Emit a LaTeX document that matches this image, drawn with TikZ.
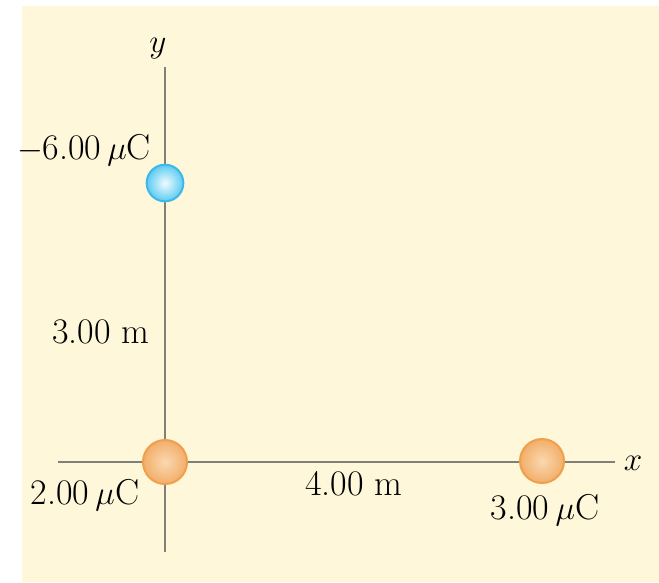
\documentclass[tikz,border=0pt]{standalone}
\usetikzlibrary{shadings}
\definecolor{cream}{HTML}{FEF7DA}
\definecolor{axisgray}{HTML}{808076}
\definecolor{orangeedge}{HTML}{F0A04C}
\definecolor{orangein}{HTML}{FAD9B0}
\definecolor{orangeout}{HTML}{F2AE6A}
\definecolor{blueedge}{HTML}{3DB8E8}
\definecolor{bluein}{HTML}{F0FBFF}
\definecolor{blueout}{HTML}{5CCBF2}
\begin{document}
\begin{tikzpicture}[x=0.75pt,y=-0.75pt,
  axis/.style={draw=axisgray,line width=2pt},
  lbl/.style={inner sep=0pt,anchor=base,font=\fontsize{27}{32}\selectfont},
  poscharge/.style={circle,draw=orangeedge,line width=1.5pt,inner sep=0pt,minimum size=33pt,shading=radial,inner color=orangein,outer color=orangeout},
  negcharge/.style={circle,draw=blueedge,line width=1.5pt,inner sep=0pt,minimum size=27.5pt,shading=radial,inner color=bluein,outer color=blueout}]
\useasboundingbox (0,0) rectangle (659,582);
\fill[white] (0,0) rectangle (659,582);
\fill[cream] (22,6) rectangle (659,582);
% axis end points
\coordinate (ytop) at (165,67);
\coordinate (ybot) at (165,552);
\coordinate (xleft) at (58,462);
\coordinate (xright) at (615,462);
\draw[axis] (ytop) -- (ybot);
\draw[axis] (xleft) -- (xright);
% charges
\node[negcharge] (q1) at (165,183) {};
\node[poscharge] (q2) at (165,462) {};
\node[poscharge] (q3) at (542,461) {};
% labels
\node[lbl] (ylab) at (158,52) {$y$};
\node[lbl] (xlab) at (633,470) {$x$};
\node[lbl] (l1) at (84,159) {$-$6.00\,$\mu$C};
\node[lbl] (l2) at (101,343) {3.00 m};
\node[lbl] (l3) at (85,504) {2.00\,$\mu$C};
\node[lbl] (l4) at (354,495) {4.00 m};
\node[lbl] (l5) at (545,519) {3.00\,$\mu$C};
\end{tikzpicture}
\end{document}
